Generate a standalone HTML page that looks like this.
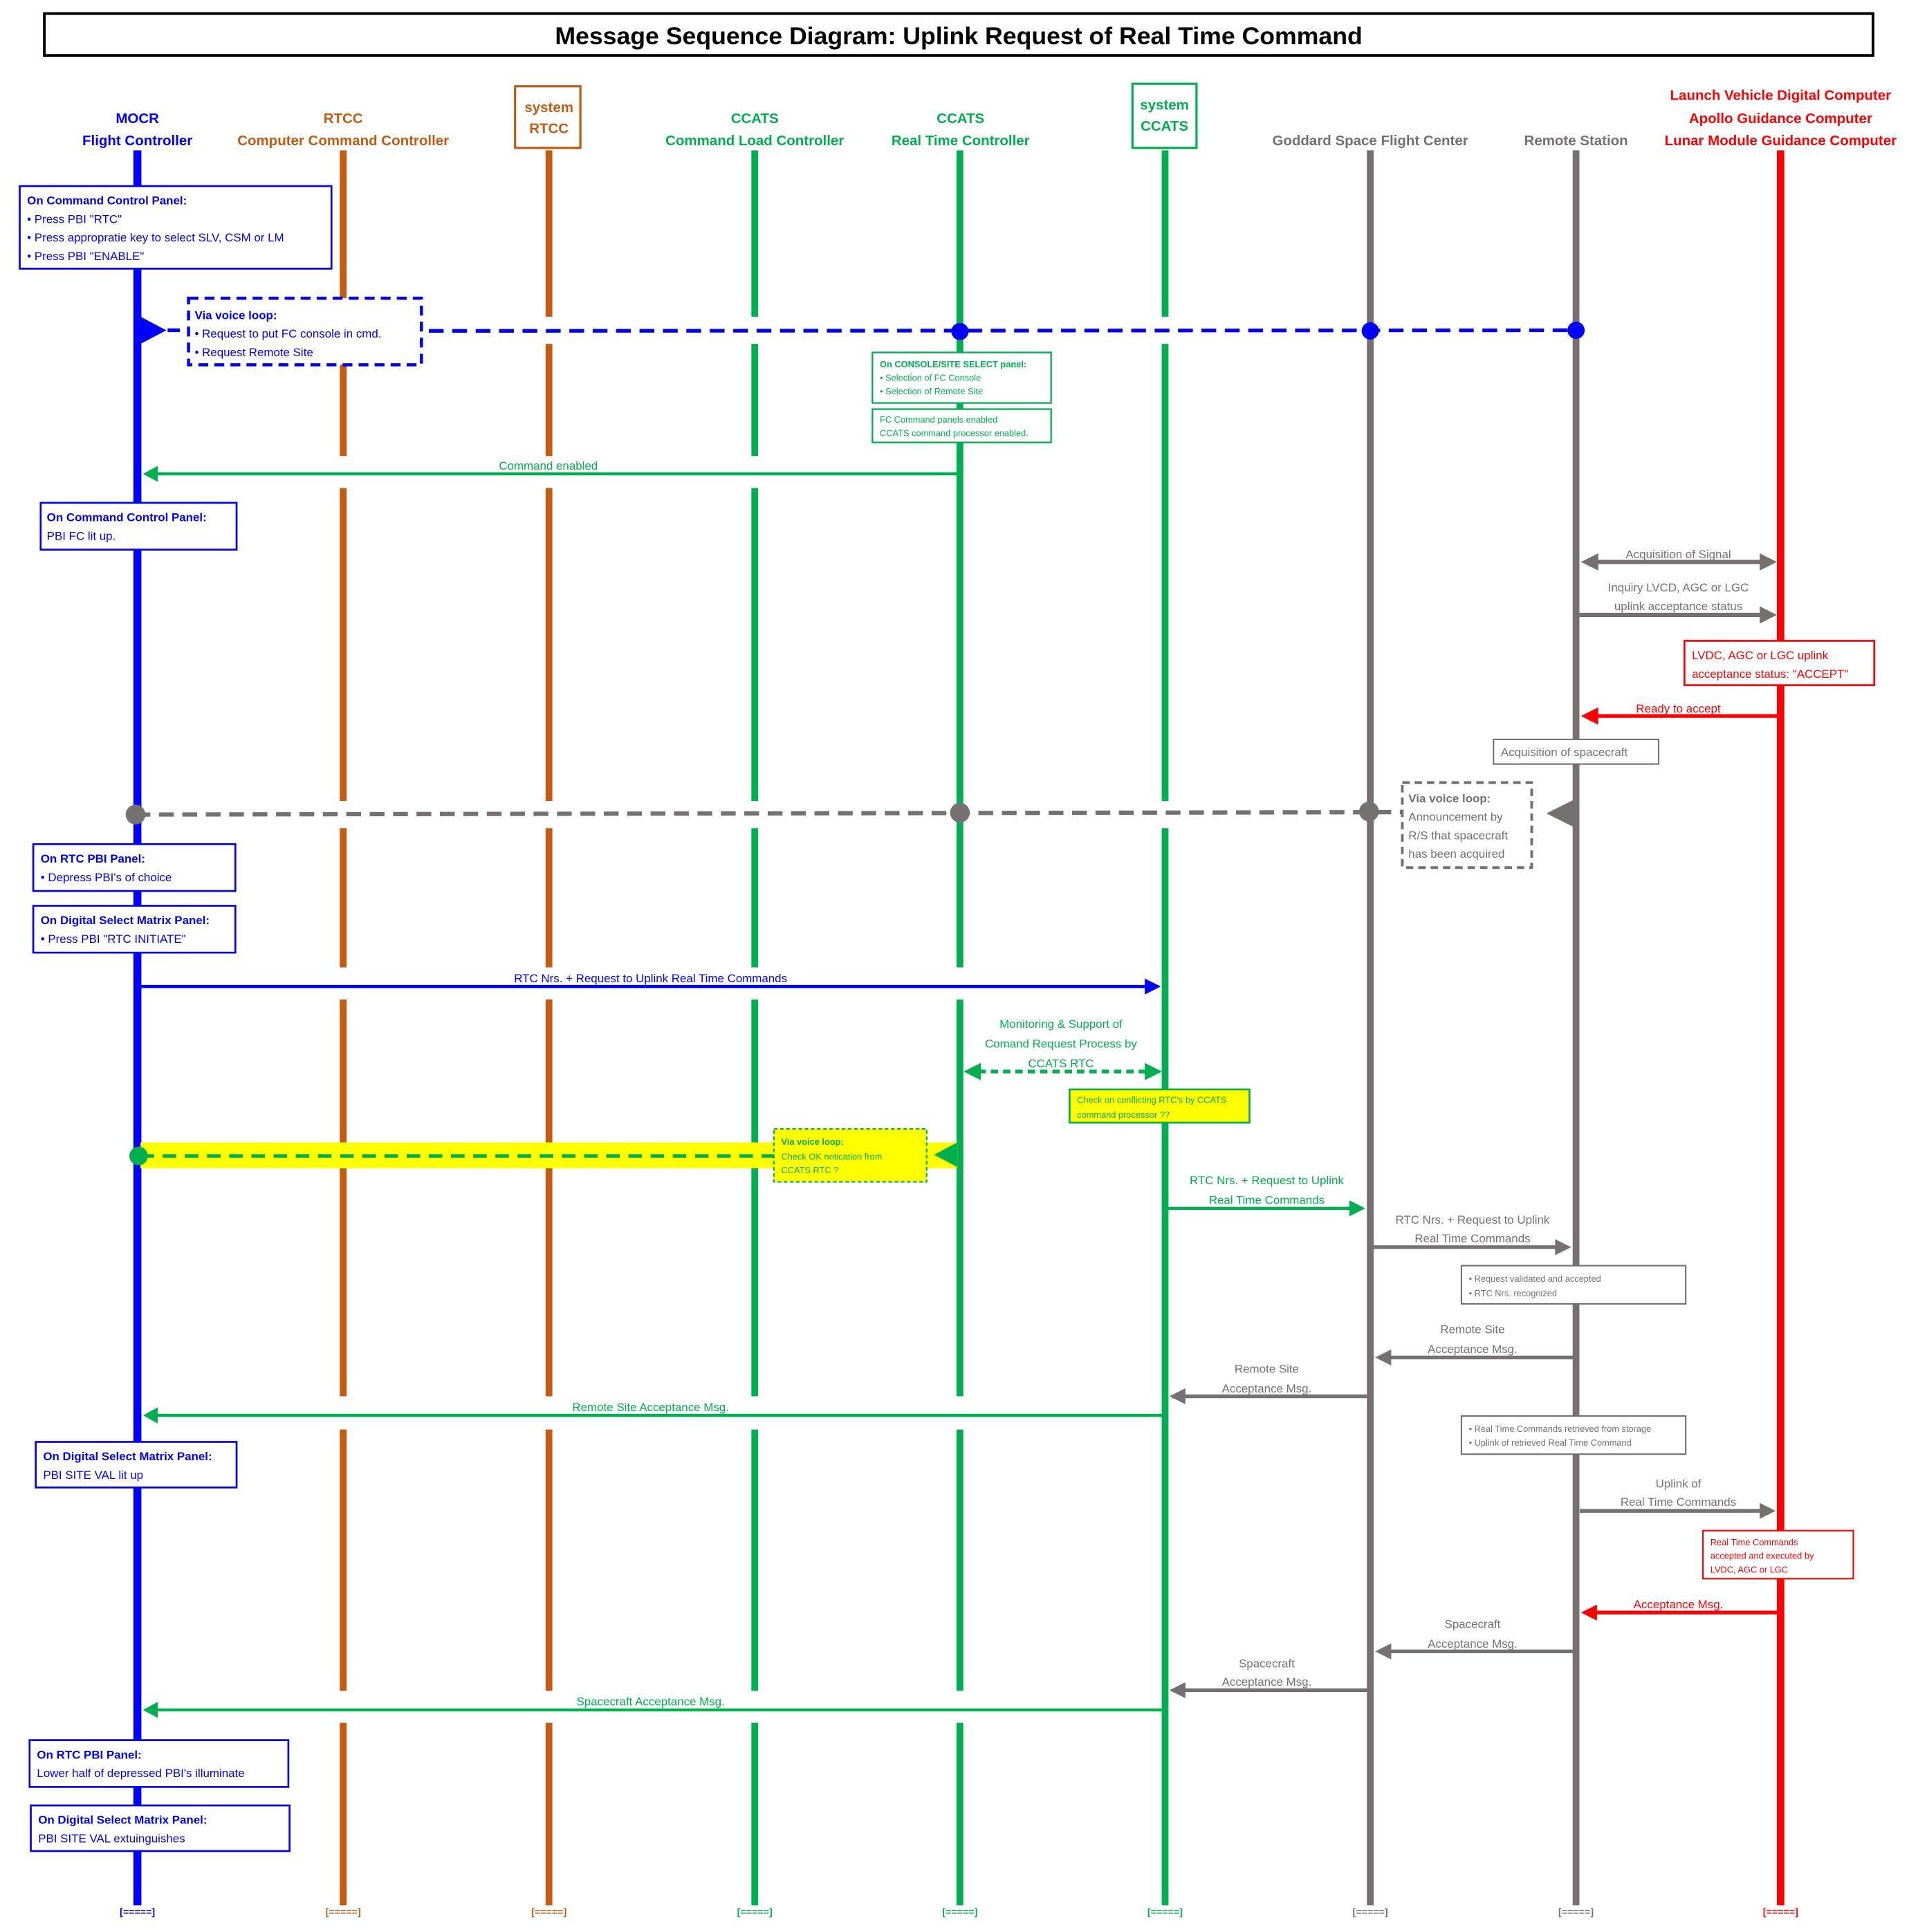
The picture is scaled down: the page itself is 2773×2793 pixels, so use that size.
<!DOCTYPE html>
<html><head><meta charset="utf-8"><style>
html,body{margin:0;padding:0;background:#fff;}
svg{display:block;}
text{font-family:"Liberation Sans",sans-serif;}
</style></head><body>
<svg width="2773" height="2793" viewBox="0 0 1556.5 1567.7" preserveAspectRatio="none" xmlns="http://www.w3.org/2000/svg">
<rect x="0" y="0" width="1560" height="1572" fill="#fff"/>
<!-- title -->
<rect x="36" y="11" width="1484" height="34" fill="#fff" stroke="#000" stroke-width="2.2"/>
<text x="778" y="36" font-size="20" font-weight="bold" text-anchor="middle" fill="#000">Message Sequence Diagram:  Uplink Request of  Real Time Command</text>

<!-- headers -->
<g font-size="11.5" font-weight="bold" text-anchor="middle">
<text x="111.5" y="100" fill="#0000FF">MOCR</text>
<text x="111.5" y="118" fill="#0000FF">Flight Controller</text>
<text x="278.5" y="100" fill="#C55A11">RTCC</text>
<text x="278.5" y="118" fill="#C55A11">Computer Command Controller</text>
<text x="445.5" y="91" fill="#C55A11">system</text>
<text x="445.5" y="108" fill="#C55A11">RTCC</text>
<text x="612.5" y="100" fill="#00B050">CCATS</text>
<text x="612.5" y="118" fill="#00B050">Command Load Controller</text>
<text x="779.5" y="100" fill="#00B050">CCATS</text>
<text x="779.5" y="118" fill="#00B050">Real Time Controller</text>
<text x="945" y="89" fill="#00B050">system</text>
<text x="945" y="106" fill="#00B050">CCATS</text>
<text x="1112" y="118" fill="#767171">Goddard Space Flight Center</text>
<text x="1279" y="118" fill="#767171">Remote Station</text>
<text x="1445" y="81" fill="#FF0000">Launch Vehicle Digital Computer</text>
<text x="1445" y="100" fill="#FF0000">Apollo Guidance Computer</text>
<text x="1445" y="118" fill="#FF0000">Lunar Module Guidance Computer</text>
</g>
<rect x="418" y="70" width="53" height="50" fill="none" stroke="#C55A11" stroke-width="1.8"/>
<rect x="919" y="68" width="52" height="52" fill="none" stroke="#00B050" stroke-width="1.8"/>

<!-- lifelines -->
<g stroke-width="5.5">
<line x1="111.5" y1="122" x2="111.5" y2="1546" stroke="#0000FF" stroke-width="6.5"/>
<path d="M278.5 122V257M278.5 279V370M278.5 396V650M278.5 672V785M278.5 811V1133M278.5 1160V1372M278.5 1398V1546" stroke="#C55A11"/>
<path d="M445.5 122V257M445.5 279V370M445.5 396V650M445.5 672V785M445.5 811V1133M445.5 1160V1372M445.5 1398V1546" stroke="#C55A11"/>
<path d="M612.5 122V257M612.5 279V370M612.5 396V650M612.5 672V785M612.5 811V1133M612.5 1160V1372M612.5 1398V1546" stroke="#00B050"/>
<path d="M779 122V785M779 811V1133M779 1160V1372M779 1398V1546" stroke="#00B050"/>
<path d="M945.5 122V257M945.5 279V650M945.5 672V1546" stroke="#00B050"/>
<line x1="1112" y1="122" x2="1112" y2="1546" stroke="#767171"/>
<line x1="1279" y1="122" x2="1279" y2="1546" stroke="#767171"/>
<line x1="1445" y1="122" x2="1445" y2="1546" stroke="#FF0000" stroke-width="6"/>
</g>

<!-- footers -->
<g font-size="8" font-weight="bold" text-anchor="middle">
<text x="111.5" y="1554" fill="#0000FF">[=====]</text>
<text x="278.5" y="1554" fill="#C55A11">[=====]</text>
<text x="445.5" y="1554" fill="#C55A11">[=====]</text>
<text x="612.5" y="1554" fill="#00B050">[=====]</text>
<text x="779" y="1554" fill="#00B050">[=====]</text>
<text x="945.5" y="1554" fill="#00B050">[=====]</text>
<text x="1112" y="1554" fill="#767171">[=====]</text>
<text x="1279" y="1554" fill="#767171">[=====]</text>
<text x="1445" y="1554" fill="#FF0000">[=====]</text>
</g>

<!-- box 1 -->
<rect x="16" y="151" width="253" height="67" fill="#fff" stroke="#0000FF" stroke-width="1.5"/>
<g font-size="9.5" fill="#0000FF">
<text x="22" y="166" font-weight="bold">On Command Control Panel:</text>
<text x="22" y="181">• Press PBI "RTC"</text>
<text x="22" y="196">• Press appropratie key to select SLV, CSM or LM</text>
<text x="22" y="211">• Press PBI "ENABLE"</text>
</g>

<!-- blue voice loop -->
<line x1="136" y1="268" x2="153" y2="268" stroke="#0000FF" stroke-width="3" stroke-dasharray="10,6"/>
<line x1="348" y1="268.5" x2="1279" y2="268" stroke="#0000FF" stroke-width="3" stroke-dasharray="12,7"/>
<polygon points="114,257 114,279 135,268" fill="#0000FF"/>
<rect x="153" y="242" width="189" height="54" fill="#fff" stroke="#0000FF" stroke-width="2.5" stroke-dasharray="8,5"/>
<g font-size="9.5" fill="#0000FF">
<text x="158" y="259" font-weight="bold">Via voice loop:</text>
<text x="158" y="274">• Request  to put FC console in cmd.</text>
<text x="158" y="289">• Request  Remote Site</text>
</g>
<circle cx="779" cy="269" r="7" fill="#0000FF"/>
<circle cx="1112" cy="268.5" r="7" fill="#0000FF"/>
<circle cx="1279" cy="268" r="7" fill="#0000FF"/>

<!-- green boxes near RTC -->
<rect x="708" y="286" width="145" height="41" fill="#fff" stroke="#00B050" stroke-width="1.3"/>
<g font-size="7.2" fill="#00B050">
<text x="714" y="298" font-weight="bold">On CONSOLE/SITE SELECT panel:</text>
<text x="714" y="309">• Selection of FC Console</text>
<text x="714" y="320">• Selection of Remote Site</text>
</g>
<rect x="708" y="332" width="145" height="27" fill="#fff" stroke="#00B050" stroke-width="1.3"/>
<g font-size="7.2" fill="#00B050">
<text x="714" y="343">FC Command panels enabled</text>
<text x="714" y="354">CCATS command  processor enabled.</text>
</g>

<!-- command enabled -->
<line x1="779" y1="384.5" x2="126" y2="384.5" stroke="#00B050" stroke-width="2.5"/>
<polygon points="116,384.5 128,378 128,391" fill="#00B050"/>
<text x="445" y="381" font-size="9.5" fill="#00B050" text-anchor="middle">Command enabled</text>

<rect x="33" y="408" width="159" height="38" fill="#fff" stroke="#0000FF" stroke-width="1.5"/>
<g font-size="9.5" fill="#0000FF">
<text x="38" y="423" font-weight="bold">On Command Control  Panel:</text>
<text x="38" y="438">PBI FC lit up.</text>
</g>

<!-- AOS -->
<line x1="1294" y1="456" x2="1430" y2="456" stroke="#767171" stroke-width="3.5"/>
<polygon points="1283,456 1297,449 1297,463" fill="#767171"/>
<polygon points="1442,456 1428,449 1428,463" fill="#767171"/>
<text x="1362" y="453" font-size="9.5" fill="#767171" text-anchor="middle">Acquisition of Signal</text>
<text x="1362" y="480" font-size="9.5" fill="#767171" text-anchor="middle">Inquiry LVCD,  AGC or LGC</text>
<text x="1362" y="495" font-size="9.5" fill="#767171" text-anchor="middle">uplink acceptance status</text>
<line x1="1281" y1="499" x2="1430" y2="499" stroke="#767171" stroke-width="3.5"/>
<polygon points="1442,499 1428,492 1428,506" fill="#767171"/>

<rect x="1367" y="520" width="154" height="36" fill="#fff" stroke="#FF0000" stroke-width="1.5"/>
<g font-size="9.5" fill="#FF0000">
<text x="1373" y="535">LVDC, AGC or LGC uplink</text>
<text x="1373" y="550">acceptance status: "ACCEPT"</text>
</g>
<line x1="1445" y1="581" x2="1294" y2="581" stroke="#FF0000" stroke-width="3"/>
<polygon points="1283,581 1297,574 1297,588" fill="#FF0000"/>
<text x="1362" y="578" font-size="9.5" fill="#FF0000" text-anchor="middle">Ready to accept</text>

<rect x="1212" y="600" width="134" height="20" fill="#fff" stroke="#767171" stroke-width="1.2"/>
<text x="1218" y="613.5" font-size="9.5" fill="#767171">Acquisition of spacecraft</text>

<!-- grey voice loop -->
<line x1="110" y1="661" x2="1137" y2="659" stroke="#767171" stroke-width="3.5" stroke-dasharray="12,7"/>
<circle cx="110" cy="661" r="8" fill="#767171"/>
<circle cx="779" cy="659.5" r="8" fill="#767171"/>
<circle cx="1111" cy="658.5" r="8" fill="#767171"/>
<rect x="1138" y="635" width="105" height="69" fill="#fff" stroke="#767171" stroke-width="2.2" stroke-dasharray="6,4"/>
<g font-size="9.5" fill="#767171">
<text x="1143" y="651" font-weight="bold">Via voice loop:</text>
<text x="1143" y="666">Announcement  by</text>
<text x="1143" y="681">R/S that spacecraft</text>
<text x="1143" y="696">has been acquired</text>
</g>
<polygon points="1255,660 1277,649 1277,671" fill="#767171"/>

<rect x="27" y="685" width="164" height="38" fill="#fff" stroke="#0000FF" stroke-width="1.5"/>
<g font-size="9.5" fill="#0000FF">
<text x="33" y="700" font-weight="bold">On RTC PBI Panel:</text>
<text x="33" y="715">• Depress  PBI's of choice</text>
</g>
<rect x="27" y="735" width="164" height="38" fill="#fff" stroke="#0000FF" stroke-width="1.5"/>
<g font-size="9.5" fill="#0000FF">
<text x="33" y="750" font-weight="bold">On Digital Select Matrix Panel:</text>
<text x="33" y="765">• Press PBI "RTC INITIATE"</text>
</g>

<!-- RTC nrs blue -->
<line x1="114" y1="800.5" x2="930" y2="800.5" stroke="#0000FF" stroke-width="2.5"/>
<polygon points="942,800.5 929,794 929,807" fill="#0000FF"/>
<text x="528" y="797" font-size="9.5" fill="#0000FF" text-anchor="middle">RTC Nrs. + Request to Uplink Real Time Commands</text>

<!-- monitoring -->
<g font-size="9.5" fill="#00B050" text-anchor="middle">
<text x="861" y="834">Monitoring &amp; Support of</text>
<text x="861" y="850">Comand Request Process by</text>
<text x="861" y="866">CCATS RTC</text>
</g>
<line x1="794" y1="869.5" x2="931" y2="869.5" stroke="#00B050" stroke-width="3" stroke-dasharray="6,4"/>
<polygon points="782,869.5 796,862.5 796,876.5" fill="#00B050"/>
<polygon points="943,869.5 929,862.5 929,876.5" fill="#00B050"/>
<rect x="868" y="884" width="146" height="27" fill="#FFFF00" stroke="#00B050" stroke-width="1.5"/>
<g font-size="7.2" fill="#00B050">
<text x="874" y="895">Check on conflicting RTC's by CCATS</text>
<text x="874" y="907">command  processor ??</text>
</g>

<!-- yellow band -->
<rect x="114" y="927" width="663" height="21" fill="#FFFF00"/>
<line x1="114" y1="938" x2="628" y2="938" stroke="#00B050" stroke-width="3" stroke-dasharray="11,7"/>
<circle cx="112.5" cy="938" r="7.5" fill="#00B050"/>
<rect x="628" y="916" width="124" height="43" fill="#FFFF00" stroke="#00B050" stroke-width="1.2" stroke-dasharray="3,2"/>
<g font-size="7.2" fill="#00B050">
<text x="634" y="929" font-weight="bold">Via voice loop:</text>
<text x="634" y="941">Check OK notication from</text>
<text x="634" y="952">CCATS RTC ?</text>
</g>
<polygon points="758,937 777,927 777,947" fill="#00B050"/>

<!-- green to goddard -->
<line x1="947" y1="980.5" x2="1096" y2="980.5" stroke="#00B050" stroke-width="2.5"/>
<polygon points="1108,980.5 1095,974 1095,987" fill="#00B050"/>
<text x="1028" y="961" font-size="9.5" fill="#00B050" text-anchor="middle">RTC Nrs. + Request to Uplink</text>
<text x="1028" y="977" font-size="9.5" fill="#00B050" text-anchor="middle">Real Time Commands</text>

<line x1="1114" y1="1012" x2="1263" y2="1012" stroke="#767171" stroke-width="3"/>
<polygon points="1275,1012 1262,1005.5 1262,1018.5" fill="#767171"/>
<text x="1195" y="993" font-size="9.5" fill="#767171" text-anchor="middle">RTC Nrs. + Request to Uplink</text>
<text x="1195" y="1008" font-size="9.5" fill="#767171" text-anchor="middle">Real Time Commands</text>

<rect x="1186" y="1027" width="182" height="31" fill="#fff" stroke="#767171" stroke-width="1.2"/>
<g font-size="7.2" fill="#767171">
<text x="1192" y="1040">• Request validated and accepted</text>
<text x="1192" y="1052">• RTC Nrs. recognized</text>
</g>

<line x1="1277" y1="1101.5" x2="1128" y2="1101.5" stroke="#767171" stroke-width="3"/>
<polygon points="1116,1101.5 1129,1095 1129,1108" fill="#767171"/>
<text x="1195" y="1082" font-size="9.5" fill="#767171" text-anchor="middle">Remote Site</text>
<text x="1195" y="1098" font-size="9.5" fill="#767171" text-anchor="middle">Acceptance Msg.</text>

<line x1="1110" y1="1133" x2="961" y2="1133" stroke="#767171" stroke-width="3"/>
<polygon points="949,1133 962,1126.5 962,1139.5" fill="#767171"/>
<text x="1028" y="1114" font-size="9.5" fill="#767171" text-anchor="middle">Remote Site</text>
<text x="1028" y="1130" font-size="9.5" fill="#767171" text-anchor="middle">Acceptance Msg.</text>

<line x1="943" y1="1148.5" x2="127" y2="1148.5" stroke="#00B050" stroke-width="2.5"/>
<polygon points="116,1148.5 128,1142 128,1155" fill="#00B050"/>
<text x="528" y="1145" font-size="9.5" fill="#00B050" text-anchor="middle">Remote Site Acceptance Msg.</text>

<rect x="1186" y="1149" width="182" height="31" fill="#fff" stroke="#767171" stroke-width="1.2"/>
<g font-size="7.2" fill="#767171">
<text x="1192" y="1162">• Real Time Commands retrieved from storage</text>
<text x="1192" y="1173">• Uplink of retrieved Real Time Command</text>
</g>

<rect x="29" y="1170" width="163" height="37" fill="#fff" stroke="#0000FF" stroke-width="1.5"/>
<g font-size="9.5" fill="#0000FF">
<text x="35" y="1185" font-weight="bold">On Digital Select Matrix Panel:</text>
<text x="35" y="1200">PBI SITE VAL lit up</text>
</g>

<line x1="1282" y1="1226" x2="1429" y2="1226" stroke="#767171" stroke-width="3"/>
<polygon points="1441,1226 1428,1219.5 1428,1232.5" fill="#767171"/>
<text x="1362" y="1207" font-size="9.5" fill="#767171" text-anchor="middle">Uplink of</text>
<text x="1362" y="1222" font-size="9.5" fill="#767171" text-anchor="middle">Real Time Commands</text>

<rect x="1382" y="1242" width="122" height="39" fill="#fff" stroke="#FF0000" stroke-width="1.2"/>
<g font-size="7.2" fill="#FF0000">
<text x="1388" y="1254">Real Time Commands</text>
<text x="1388" y="1265">accepted and executed by</text>
<text x="1388" y="1276">LVDC, AGC or LGC</text>
</g>

<line x1="1443" y1="1308.5" x2="1295" y2="1308.5" stroke="#FF0000" stroke-width="3"/>
<polygon points="1283,1308.5 1296,1302 1296,1315" fill="#FF0000"/>
<text x="1362" y="1305" font-size="9.5" fill="#FF0000" text-anchor="middle">Acceptance Msg.</text>

<line x1="1277" y1="1340" x2="1128" y2="1340" stroke="#767171" stroke-width="3"/>
<polygon points="1116,1340 1129,1333.5 1129,1346.5" fill="#767171"/>
<text x="1195" y="1321" font-size="9.5" fill="#767171" text-anchor="middle">Spacecraft</text>
<text x="1195" y="1337" font-size="9.5" fill="#767171" text-anchor="middle">Acceptance Msg.</text>

<line x1="1110" y1="1371.5" x2="961" y2="1371.5" stroke="#767171" stroke-width="3"/>
<polygon points="949,1371.5 962,1365 962,1378" fill="#767171"/>
<text x="1028" y="1353" font-size="9.5" fill="#767171" text-anchor="middle">Spacecraft</text>
<text x="1028" y="1368" font-size="9.5" fill="#767171" text-anchor="middle">Acceptance Msg.</text>

<line x1="943" y1="1387.5" x2="127" y2="1387.5" stroke="#00B050" stroke-width="2.5"/>
<polygon points="116,1387.5 128,1381 128,1394" fill="#00B050"/>
<text x="528" y="1384" font-size="9.5" fill="#00B050" text-anchor="middle">Spacecraft Acceptance Msg.</text>

<rect x="24" y="1412" width="210" height="38" fill="#fff" stroke="#0000FF" stroke-width="1.5"/>
<g font-size="9.5" fill="#0000FF">
<text x="30" y="1427" font-weight="bold">On RTC PBI Panel:</text>
<text x="30" y="1442">Lower half of depressed  PBI's illuminate</text>
</g>
<rect x="25" y="1465" width="210" height="37" fill="#fff" stroke="#0000FF" stroke-width="1.5"/>
<g font-size="9.5" fill="#0000FF">
<text x="31" y="1480" font-weight="bold">On Digital Select Matrix  Panel:</text>
<text x="31" y="1495">PBI SITE VAL extuinguishes</text>
</g>
</svg>
</body></html>
